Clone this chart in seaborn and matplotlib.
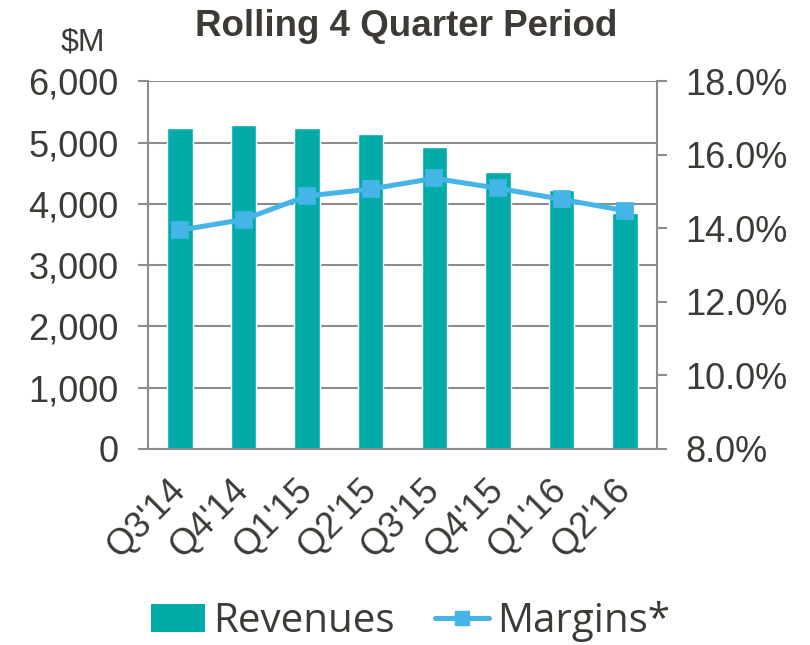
import matplotlib
matplotlib.use("Agg")
import matplotlib.pyplot as plt
import matplotlib.ticker as mticker
from matplotlib.lines import Line2D
from matplotlib.patches import Patch
import pandas as pd
import seaborn as sns

# chart data
quarters = ["Q3'14", "Q4'14", "Q1'15", "Q2'15", "Q3'15", "Q4'15", "Q1'16", "Q2'16"]
revenues = [5230, 5280, 5230, 5140, 4935, 4520, 4230, 3845]
margins = [13.95, 14.24, 14.88, 15.07, 15.36, 15.09, 14.79, 14.48]

BAR_COLOR = "#00ABA8"
LINE_COLOR = "#45B4E6"
TEXT_COLOR = "#3E3A36"
AXIS_COLOR = "#8C8C8C"

sns.set_style("white")
plt.rcParams["font.family"] = ["Liberation Sans", "DejaVu Sans"]

df = pd.DataFrame({"quarter": quarters, "revenue": revenues, "margin": margins})

fig = plt.figure(figsize=(8.1, 6.45), dpi=100)
ax = fig.add_axes([0.183, 0.304, 0.628, 0.570])

sns.barplot(data=df, x="quarter", y="revenue", color=BAR_COLOR, width=0.4,
            saturation=1, ax=ax, zorder=2)
ax.set_ylim(0, 6000)
ax.set_xlim(-0.5, len(quarters) - 0.5)
ax.yaxis.set_major_locator(mticker.MultipleLocator(1000))
ax.yaxis.set_major_formatter(mticker.StrMethodFormatter("{x:,.0f}"))
ax.grid(axis="y", color=AXIS_COLOR, linewidth=1.5, zorder=0)
ax.set_axisbelow(True)
ax.set_xlabel("")
ax.set_ylabel("")

# x ticks sit between the categories, labels at the centres
ax.set_xticks([i + 0.5 for i in range(-1, len(quarters))], minor=True)
ax.tick_params(axis="x", which="minor", length=7.5, width=1.5, color=AXIS_COLOR)
ax.tick_params(axis="x", which="major", length=0, labelsize=26, labelcolor=TEXT_COLOR, pad=26)
for lbl in ax.get_xticklabels():
    lbl.set_rotation(45)
    lbl.set_ha("right")
    lbl.set_va("center")
    lbl.set_rotation_mode("anchor")
    lbl.set_x(lbl.get_position()[0])
ax.tick_params(axis="y", length=7.5, width=1.5, color=AXIS_COLOR, labelsize=26,
               labelcolor=TEXT_COLOR, left=True, pad=14)

for side in ["left", "right", "top", "bottom"]:
    ax.spines[side].set_color(AXIS_COLOR)
    ax.spines[side].set_linewidth(1.5)
ax.spines["top"].set_visible(False)

# margins on the right axis
ax2 = ax.twinx()
sns.pointplot(data=df, x="quarter", y="margin", color=LINE_COLOR, markers="s",
              linestyles="-", markersize=10.5, linewidth=3.6, ax=ax2)
ax2.set_ylim(8, 18)
ax2.set_xlim(-0.5, len(quarters) - 0.5)
ax2.yaxis.set_major_locator(mticker.MultipleLocator(2))
ax2.yaxis.set_major_formatter(mticker.StrMethodFormatter("{x:.1f}%"))
ax2.tick_params(axis="y", length=7.5, width=1.5, color=AXIS_COLOR, labelsize=26,
                labelcolor=TEXT_COLOR, right=True, pad=13)
ax2.set_ylabel("")
ax2.set_xlabel("")
for side in ["left", "right", "top", "bottom"]:
    ax2.spines[side].set_visible(False)

fig.text(0.501, 0.944, "Rolling 4 Quarter Period", ha="center", va="baseline",
         fontsize=26.5, fontweight="bold", color=TEXT_COLOR)
fig.text(0.1025, 0.922, "$M", ha="center", va="baseline", fontsize=23, color=TEXT_COLOR)

handles = [Patch(facecolor=BAR_COLOR, edgecolor="none"),
           Line2D([0], [0], color=LINE_COLOR, linewidth=3.6, marker="s", markersize=10.5)]
fig.legend(handles, ["Revenues", "Margins*"], loc="center", bbox_to_anchor=(0.507, 0.036),
           ncol=2, frameon=False, handlelength=1.35, handletextpad=0.2,
           columnspacing=1.0, labelcolor=TEXT_COLOR, borderpad=0,
           prop={"family": ["Open Sans", "DejaVu Sans"], "size": 29})

fig.savefig("out.png", dpi=100)
